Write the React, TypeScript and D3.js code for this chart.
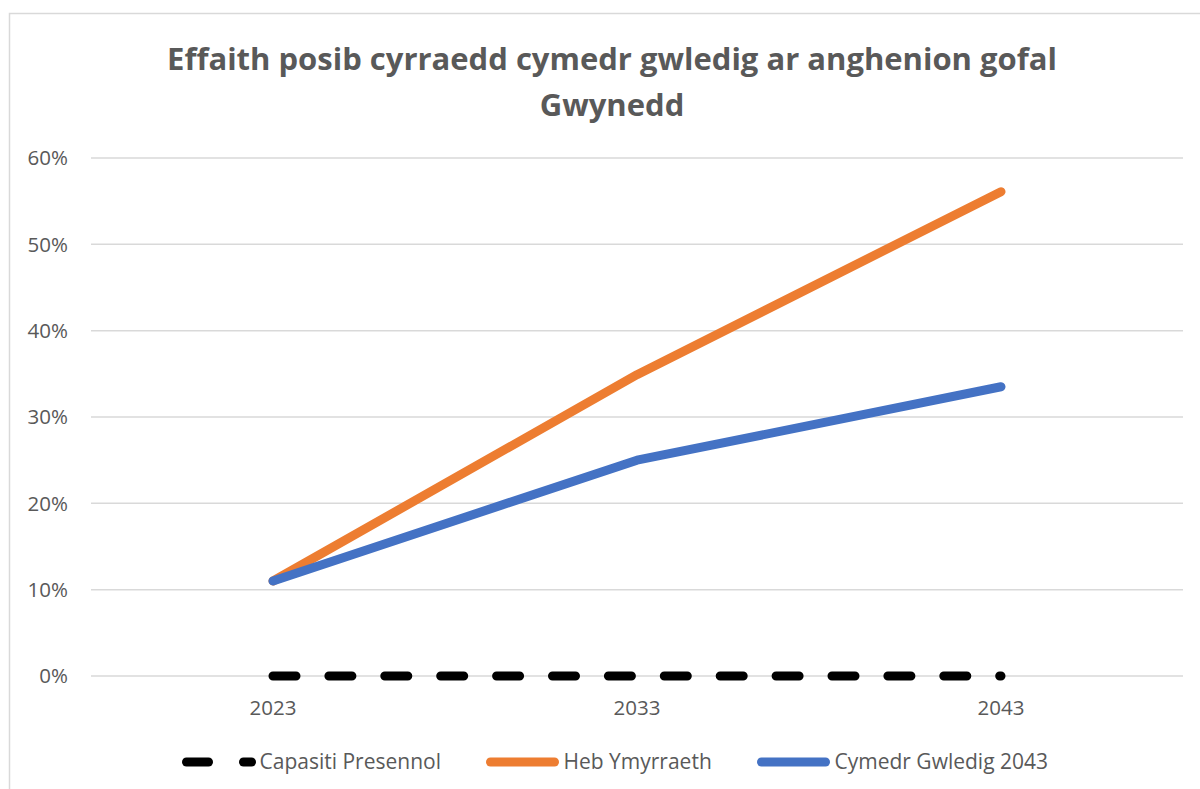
import { useEffect, useRef } from "react";
import * as d3 from "d3";

const years = ["2023", "2033", "2043"];
const capasiti = [0, 0, 0];
const hebYmyrraeth = [0.11, 0.349, 0.561];
const cymedrGwledig = [0.11, 0.25, 0.335];
const yTicks = [0, 0.1, 0.2, 0.3, 0.4, 0.5, 0.6];
const titleLines = ["Effaith posib cyrraedd cymedr gwledig ar anghenion gofal", "Gwynedd"];

const seriesList = [
    { name: "Capasiti Presennol", values: capasiti, color: "#000000", dash: "23,32.9" },
    { name: "Heb Ymyrraeth", values: hebYmyrraeth, color: "#ED7D31", dash: null },
    { name: "Cymedr Gwledig 2043", values: cymedrGwledig, color: "#4472C4", dash: null },
];

const FONT = "'Open Sans', sans-serif";

export default function App() {
    const ref = useRef<SVGSVGElement | null>(null);

    useEffect(() => {
        document.body.style.margin = "0";
        const svg = d3.select(ref.current);
        svg.selectAll("*").remove();

        const width = 1200;
        const height = 789;
        const left = 91, right = 1183, top = 158, bottom = 676;

        svg.append("rect").attr("width", width).attr("height", height).attr("fill", "#fff");

        // chart frame (only top and left edges are in view)
        svg.append("path")
            .attr("d", `M9.5,${height} L9.5,13.5 L${width},13.5`)
            .attr("fill", "none")
            .attr("stroke", "#d9d9d9")
            .attr("stroke-width", 1.5);

        // title
        svg.append("g").selectAll("text")
            .data(titleLines)
            .enter()
            .append("text")
            .attr("x", 612)
            .attr("y", (d, i) => 70 + i * 46)
            .attr("text-anchor", "middle")
            .style("font-family", FONT)
            .style("font-size", "31px")
            .style("font-weight", "bold")
            .style("fill", "#595959")
            .text(d => d);

        const x = d3.scaleBand().domain(years).range([left, right]);
        const y = d3.scaleLinear().domain([0, 0.6]).range([bottom, top]);

        // gridlines
        svg.append("g").selectAll("line")
            .data(yTicks)
            .enter()
            .append("line")
            .attr("x1", left)
            .attr("x2", right)
            .attr("y1", d => y(d))
            .attr("y2", d => y(d))
            .attr("stroke", "#d9d9d9")
            .attr("stroke-width", 1.5);

        // y labels
        svg.append("g").selectAll("text")
            .data(yTicks)
            .enter()
            .append("text")
            .attr("x", 68)
            .attr("y", d => y(d))
            .attr("dy", "0.35em")
            .attr("text-anchor", "end")
            .style("font-family", FONT)
            .style("font-size", "20.5px")
            .style("fill", "#595959")
            .text(d => d3.format(".0%")(d));

        // x labels
        svg.append("g").selectAll("text")
            .data(years)
            .enter()
            .append("text")
            .attr("x", d => x(d)! + x.bandwidth() / 2)
            .attr("y", 708)
            .attr("dy", "0.35em")
            .attr("text-anchor", "middle")
            .style("font-family", FONT)
            .style("font-size", "20.5px")
            .style("fill", "#595959")
            .text(d => d);

        const line = d3.line<number>()
            .x((d, i) => x(years[i])! + x.bandwidth() / 2)
            .y(d => y(d));

        // series, last one drawn on top
        seriesList.forEach(s => {
            svg.append("path")
                .datum(s.values)
                .attr("d", line)
                .attr("fill", "none")
                .attr("stroke", s.color)
                .attr("stroke-width", 9)
                .attr("stroke-linecap", "round")
                .attr("stroke-linejoin", "round")
                .attr("stroke-dasharray", s.dash);
        });

        // legend
        const legendX = [186.5, 490.5, 761.5];
        const legend = svg.append("g");
        seriesList.forEach((s, i) => {
            const g = legend.append("g").attr("transform", `translate(${legendX[i]}, 762)`);
            const segs = s.dash ? [[0, 22], [57, 65]] : [[0, 64]];
            segs.forEach(([a, b]) => {
                g.append("line").attr("x1", a).attr("x2", b).attr("y1", 0).attr("y2", 0)
                    .attr("stroke", s.color).attr("stroke-width", 9).attr("stroke-linecap", "round");
            });
            g.append("text")
                .attr("x", 73)
                .attr("y", 0)
                .attr("dy", "0.35em")
                .style("font-family", FONT)
                .style("font-size", "21px")
                .style("fill", "#595959")
                .text(s.name);
        });
    }, []);

    return <svg ref={ref} width={1200} height={789} style={{ display: "block" }} />;
}
